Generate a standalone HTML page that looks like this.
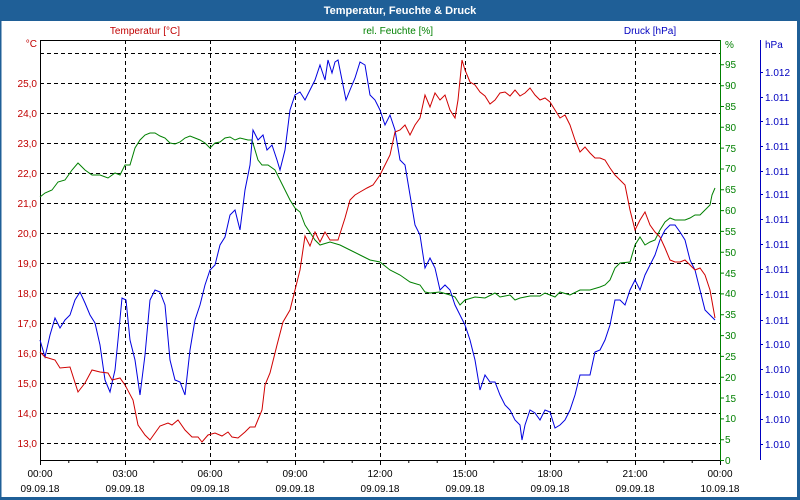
<!DOCTYPE html>
<html><head><meta charset="utf-8"><style>
html,body{margin:0;padding:0;background:#fff}
svg{display:block;font-family:"Liberation Sans",sans-serif}
</style></head><body>
<svg width="800" height="500" viewBox="0 0 800 500" xmlns="http://www.w3.org/2000/svg">
<rect x="0" y="0" width="800" height="500" fill="#fff"/>
<rect x="0" y="0" width="800" height="21" fill="#1f5f97"/>
<rect x="0.5" y="0.5" width="799" height="499" fill="none" stroke="#1f5f97" stroke-width="2"/>
<rect x="797" y="0" width="3" height="500" fill="#1f5f97"/>
<rect x="0" y="497" width="800" height="3" fill="#1f5f97"/>
<text x="400" y="14" fill="#fff" font-size="11" font-weight="bold" text-anchor="middle">Temperatur, Feuchte &amp; Druck</text>
<text x="145" y="34" fill="#c00000" font-size="10" text-anchor="middle">Temperatur [°C]</text>
<text x="398" y="34" fill="#008000" font-size="10" text-anchor="middle">rel. Feuchte [%]</text>
<text x="650" y="34" fill="#0000c0" font-size="10" text-anchor="middle">Druck [hPa]</text>
<g stroke="#000" stroke-dasharray="4,3" stroke-width="1">
<line x1="40" y1="53.5" x2="720" y2="53.5"/><line x1="40" y1="83.5" x2="720" y2="83.5"/><line x1="40" y1="113.5" x2="720" y2="113.5"/><line x1="40" y1="143.5" x2="720" y2="143.5"/><line x1="40" y1="173.5" x2="720" y2="173.5"/><line x1="40" y1="203.5" x2="720" y2="203.5"/><line x1="40" y1="233.5" x2="720" y2="233.5"/><line x1="40" y1="263.5" x2="720" y2="263.5"/><line x1="40" y1="293.5" x2="720" y2="293.5"/><line x1="40" y1="323.5" x2="720" y2="323.5"/><line x1="40" y1="353.5" x2="720" y2="353.5"/><line x1="40" y1="383.5" x2="720" y2="383.5"/><line x1="40" y1="413.5" x2="720" y2="413.5"/><line x1="40" y1="443.5" x2="720" y2="443.5"/>
<line x1="125.5" y1="40" x2="125.5" y2="460"/><line x1="210.5" y1="40" x2="210.5" y2="460"/><line x1="295.5" y1="40" x2="295.5" y2="460"/><line x1="380.5" y1="40" x2="380.5" y2="460"/><line x1="465.5" y1="40" x2="465.5" y2="460"/><line x1="550.5" y1="40" x2="550.5" y2="460"/><line x1="635.5" y1="40" x2="635.5" y2="460"/>
</g>
<g stroke="#000" stroke-width="1">
<line x1="40.5" y1="40" x2="40.5" y2="461"/><line x1="40" y1="40.5" x2="720" y2="40.5"/><line x1="40" y1="460.5" x2="720" y2="460.5"/>
<path d="M40.5 460v5M68.8 460v3M97.2 460v3M125.5 460v5M153.8 460v3M182.2 460v3M210.5 460v5M238.8 460v3M267.2 460v3M295.5 460v5M323.8 460v3M352.2 460v3M380.5 460v5M408.8 460v3M437.2 460v3M465.5 460v5M493.8 460v3M522.2 460v3M550.5 460v5M578.8 460v3M607.2 460v3M635.5 460v5M663.8 460v3M692.2 460v3M720.5 460v5"/>
</g>
<g fill="#c00000" font-size="10" text-anchor="end">
<text x="37" y="47">°C</text>
<text x="37" y="87">25,0</text><text x="37" y="117">24,0</text><text x="37" y="147">23,0</text><text x="37" y="177">22,0</text><text x="37" y="207">21,0</text><text x="37" y="237">20,0</text><text x="37" y="267">19,0</text><text x="37" y="297">18,0</text><text x="37" y="327">17,0</text><text x="37" y="357">16,0</text><text x="37" y="387">15,0</text><text x="37" y="417">14,0</text><text x="37" y="447">13,0</text>
</g>
<g fill="#000" font-size="10" text-anchor="middle">
<text x="40" y="477">00:00</text><text x="40" y="492">09.09.18</text>
<text x="125" y="477">03:00</text><text x="125" y="492">09.09.18</text>
<text x="210" y="477">06:00</text><text x="210" y="492">09.09.18</text>
<text x="295" y="477">09:00</text><text x="295" y="492">09.09.18</text>
<text x="380" y="477">12:00</text><text x="380" y="492">09.09.18</text>
<text x="465" y="477">15:00</text><text x="465" y="492">09.09.18</text>
<text x="550" y="477">18:00</text><text x="550" y="492">09.09.18</text>
<text x="635" y="477">21:00</text><text x="635" y="492">09.09.18</text>
<text x="720" y="477">00:00</text><text x="720" y="492">10.09.18</text>
</g>
<line x1="720.5" y1="40" x2="720.5" y2="461" stroke="#008000"/>
<g stroke="#008000"><path d="M720 460.5h4M720 439.7h4M720 418.9h4M720 398h4M720 377.2h4M720 356.4h4M720 335.6h4M720 314.7h4M720 293.9h4M720 273.1h4M720 252.3h4M720 231.4h4M720 210.6h4M720 189.8h4M720 169h4M720 148.1h4M720 127.3h4M720 106.5h4M720 85.7h4M720 64.8h4"/></g>
<g fill="#008000" font-size="10">
<text x="725" y="48">%</text>
<text x="725" y="464">0</text><text x="725" y="443">5</text><text x="725" y="422">10</text><text x="725" y="402">15</text><text x="725" y="381">20</text><text x="725" y="360">25</text><text x="725" y="339">30</text><text x="725" y="318">35</text><text x="725" y="297">40</text><text x="725" y="277">45</text><text x="725" y="256">50</text><text x="725" y="235">55</text><text x="725" y="214">60</text><text x="725" y="193">65</text><text x="725" y="172">70</text><text x="725" y="152">75</text><text x="725" y="131">80</text><text x="725" y="110">85</text><text x="725" y="89">90</text><text x="725" y="68">95</text>
</g>
<line x1="760.5" y1="40" x2="760.5" y2="460" stroke="#0000c0"/>
<g stroke="#0000c0"><path d="M760 72.5h3M760 97.5h3M760 121.5h3M760 146.5h3M760 171.5h3M760 194.5h3M760 219.5h3M760 244.5h3M760 269.5h3M760 294.5h3M760 320.5h3M760 344.5h3M760 369.5h3M760 394.5h3M760 419.5h3M760 444.5h3"/></g>
<g fill="#0000c0" font-size="10">
<text x="765" y="48">hPa</text>
<text x="765" y="76">1.012</text><text x="765" y="101">1.011</text><text x="765" y="125">1.011</text><text x="765" y="150">1.011</text><text x="765" y="175">1.011</text><text x="765" y="198">1.011</text><text x="765" y="223">1.011</text><text x="765" y="248">1.011</text><text x="765" y="273">1.011</text><text x="765" y="298">1.011</text><text x="765" y="324">1.011</text><text x="765" y="348">1.010</text><text x="765" y="373">1.010</text><text x="765" y="398">1.010</text><text x="765" y="423">1.010</text><text x="765" y="448">1.010</text>
</g>
<polyline fill="none" stroke="#008000" stroke-width="1" points="40,197 45,193 52,190 58,182 65,180 72,170 78,163 85,170 92,175 100,175 108,178 115,173 120,175 125,165 130,165 135,148 140,140 145,135 150,133 155,133 160,136 165,138 170,143 175,144 180,142 185,138 190,136 195,138 200,140 205,143 210,148 215,143 220,142 225,138 230,137 235,140 240,138 248,140 252,140 258,160 262,165 268,165 275,170 280,180 285,190 290,200 295,208 300,212 305,225 315,240 320,245 330,242 340,245 350,250 360,255 370,260 380,262 390,270 400,275 410,282 420,285 425,292 430,293 440,292 450,295 455,297 460,305 465,300 475,297 485,298 495,293 500,297 510,295 515,300 520,298 530,296 540,296 545,293 550,295 555,297 560,292 570,295 580,290 590,290 600,287 605,285 610,280 615,268 620,263 630,262 635,245 640,237 645,245 650,242 655,240 660,230 665,222 670,218 675,220 685,220 690,218 695,215 700,215 705,210 710,205 712,195 715,188"/>
<polyline fill="none" stroke="#0000e0" stroke-width="1" points="40,340 45,357 50,335 55,318 60,328 65,320 70,315 75,300 80,292 85,303 90,315 95,323 100,345 105,380 110,392 115,370 118,340 122,298 126,300 130,340 135,360 140,395 145,355 150,300 155,290 160,292 165,305 170,360 175,380 180,382 185,395 190,350 195,320 200,305 205,285 210,270 215,265 220,245 225,237 230,215 235,210 240,230 245,190 250,165 253,130 258,140 263,135 267,150 272,145 277,160 280,170 285,150 290,110 295,95 300,92 305,100 310,90 315,80 320,65 325,80 328,60 332,73 335,62 338,60 342,80 346,100 350,90 355,78 360,62 365,65 370,95 375,100 380,110 385,125 390,115 395,130 400,160 405,165 410,195 415,225 420,235 425,268 430,258 435,268 440,290 445,285 450,290 455,305 460,315 465,325 470,340 475,360 480,390 485,375 490,382 495,382 500,395 505,405 510,410 515,420 520,425 522,440 525,425 530,410 535,413 540,420 545,410 550,412 555,428 560,425 565,420 570,410 575,395 580,375 585,375 590,375 595,352 600,350 605,340 610,325 615,300 620,300 625,305 630,290 635,280 640,290 645,275 650,265 655,255 660,240 665,230 670,225 675,225 680,232 685,240 690,260 695,270 700,290 705,310 710,315 715,320"/>
<polyline fill="none" stroke="#d00000" stroke-width="1" points="40,352 45,357 55,360 60,368 70,367 78,392 85,383 92,370 100,372 108,373 112,380 120,378 125,385 133,400 138,425 145,435 150,440 155,433 160,426 168,423 172,425 178,420 185,430 192,437 198,437 202,442 208,435 215,433 222,436 228,432 232,437 238,438 245,432 250,427 255,427 262,410 265,385 270,373 277,345 283,322 290,310 295,290 300,270 305,236 310,246 315,232 320,242 325,232 330,240 338,240 345,218 350,200 355,195 360,192 367,188 373,185 380,175 385,165 390,155 395,132 400,130 405,125 410,135 415,125 420,118 425,95 430,107 435,93 440,100 445,95 450,110 455,118 458,100 462,60 465,70 470,82 475,85 480,92 485,96 490,104 495,100 500,93 505,92 510,96 515,90 520,96 525,93 530,88 535,95 540,100 545,98 550,102 555,110 560,118 565,115 570,125 575,140 580,152 585,147 590,153 595,158 600,158 605,160 610,168 615,175 620,180 625,185 630,210 635,230 640,220 645,212 650,225 655,232 660,237 665,248 670,260 675,262 680,262 685,260 690,265 695,270 700,268 705,275 710,290 715,318"/>
</svg>
</body></html>
